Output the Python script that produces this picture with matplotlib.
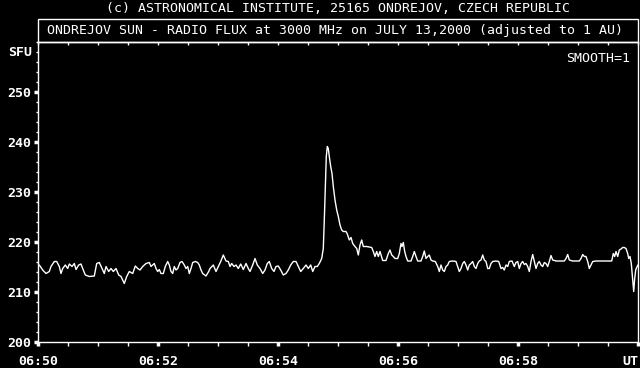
import matplotlib
matplotlib.use("Agg")
import matplotlib.pyplot as plt
from matplotlib.patches import Rectangle
from matplotlib.ticker import MultipleLocator

# seconds after 06:50:00 UT
seconds = [
    0, 1.3, 4.7, 8, 11.3, 13, 16.3, 18.7, 21.3, 23, 24.7, 27.3, 29.7, 31.3, 34, 36.3, 38, 40.7,
    43, 44.7, 47.3, 51.3, 56.3, 58.7, 61.3, 64, 66.3, 68, 70.7, 73, 75.3, 78, 80.7, 83, 86.3,
    88.7, 91.3, 94.7, 97.3, 99.7, 102, 104.7, 108, 111.3, 113, 116.3, 118,
    119.7, 121.3, 123, 125.3, 127.3, 129.7, 131.3, 133, 134.7, 136.3, 138, 139.7, 142, 144,
    146.3, 148, 149.7, 151.3, 153, 154.7, 157.3, 159.7, 161.3, 163, 164.7, 168, 170.7,
    172, 175.3, 178, 180.3, 182.7, 185.3, 188, 190.3, 192, 193.7, 196, 198, 200.3, 202.7,
    205.3, 208, 210.3, 212, 214.7, 217, 219.3, 222, 224.7, 227, 229.3, 231.3, 233.7, 236,
    238, 240.3, 242.7, 245.3, 248, 250.3, 252.7, 255.3, 258, 260.3, 262.7, 265.3, 268,
    270.3, 272.7, 274.7, 277, 279.3, 281.3, 283.7, 285.3, 286.3, 287.3, 288.3, 289.3,
    290.3, 291.3, 292.7, 294, 295.3, 297, 298.7, 300.3, 302, 303.7, 305.3, 308, 309.3,
    311.3, 313, 314.7, 317, 318.7, 320.3, 322, 323.7, 325.3, 328.7, 333.7, 335.3, 337,
    338.7, 340.3, 342, 344.7, 348, 350.3, 352, 353.7, 355.3, 357,
    359.7, 361.3, 363, 364, 365.3, 366.7, 368, 369.7, 373, 374.7, 376.3, 378, 379.7, 383,
    384.7, 386.3, 388, 389.7, 391.3, 393, 394.7, 397.3, 399.7, 401.3, 403, 404.7, 406.3,
    408, 409.7, 411.3, 414.7, 418, 419.7, 421.3, 423, 424.7, 426.3, 428, 429.7, 431.3, 433,
    434.7, 436.3, 438, 439.7, 441.3, 443, 444.7, 446.3, 448, 449.7, 451.3, 453, 454.7, 458,
    460.7, 463, 464.7, 466.3, 468, 469.7, 471.3, 474, 476.3,
    478, 479.7, 481.3, 483, 484.7, 486.3, 488, 489.7, 491.3, 493, 494.7, 496.3, 498, 499.7,
    501.3, 503, 504.7, 506.3, 508, 509.7, 511.3, 513, 514.7, 518, 526.3, 528, 529.7, 531.3,
    534.7, 541.3, 543, 544.7, 546.3, 548, 549.7, 551.3, 553, 554.7, 558, 573.7, 575.3,
    576.7, 578, 579.7, 581.3, 583, 584.7, 586.3, 588, 589.7, 590.7, 592, 593.3, 594.7,
    595.7, 596.7, 597.7, 598.7, 600,
]

flux_sfu = [
    215.1, 215.4, 214.4, 213.7, 214.1, 215.1, 216.1, 216.1, 215.1, 213.7, 214.7, 215.4, 214.7,
    215.6, 215.1, 215.7, 214.5, 215.4, 215.6, 214.7, 213.4, 213.1, 213.2, 215.7, 215.9, 214.7,
    213.7, 215.1, 214.1, 214.7, 214.1, 214.7, 213.4, 213.1, 211.7, 213.1, 214.1, 213.7, 215.2,
    214.7, 214.4, 215.1, 215.7, 215.9, 215.1, 215.7, 214.7,
    214.1, 214.5, 213.7, 213.7, 215.1, 216.1, 215.4, 214.1, 213.7, 215.1, 214.4, 214.7, 215.9,
    216.1, 215.4, 214.7, 215.1, 213.7, 214.7, 215.9, 216.1, 215.9, 215.4, 214.4, 213.7, 213.2,
    214.1,
    214.7, 215.4, 214.1, 215.1, 216.1, 217.4, 216.2, 216.1, 215.1, 215.7, 215.1, 215.4, 214.7,
    215.6, 214.5, 215.7, 214.7, 214.1, 215.4, 216.7, 215.4, 214.7, 213.7, 214.4, 215.7, 216.1,
    214.7, 214.1, 215.1, 215.2, 214.4, 213.4, 213.7, 214.4, 215.4, 216.1, 216.1, 215.1, 214.1,
    214.7, 215.4, 214.7, 215.4, 214.1, 215.1, 215.1, 215.7, 216.7, 218.7, 224.4, 231.1, 237.1,
    239.1, 238.7, 237.1, 235.1, 233.7, 231.1, 228.4, 226.4, 225.1, 223.4, 222.4, 222.1, 222.1,
    221.6, 220.4, 220.9, 219.7, 219.1, 218.7, 217.4, 219.4, 220.4, 219.1, 219.1, 218.9, 218.1,
    217.1, 218.1, 217.1, 218.1, 216.3, 216.3, 217.7, 218.4, 217.4, 217.1, 216.7,
    216.7, 217.7, 219.7, 219.1, 219.9, 218.1, 217.1, 216.2, 216.2, 217.1, 218.1, 217.1, 216.2,
    216.2, 217.1, 218.2, 216.7, 217.1, 217.4, 216.4, 216.2, 216.1, 215.1, 214.1, 215.4, 214.4,
    214.1, 215.1, 215.4, 216.1, 216.2, 216.1, 215.1, 214.1, 214.7, 215.7, 216.1, 215.4, 214.4,
    215.4, 215.7, 216.1, 215.1, 214.7, 215.7, 216.2, 216.4, 217.4, 216.4, 216.1, 214.7, 214.7,
    215.7, 216.1, 216.2, 216.1, 214.7, 214.9, 214.4, 215.4, 215.1, 216.1, 216.2, 215.1,
    215.9, 216.1, 214.7, 215.7, 216.1, 215.5, 215.7, 215.1, 214.1, 216.1, 217.5, 216.1, 214.7,
    215.7, 216.1, 215.4, 215.1, 215.9, 215.7, 215.1, 216.1, 217.3, 216.4, 216.2, 216.2, 216.7,
    217.5, 216.4, 216.2, 216.2, 216.7, 217.5, 217.1, 217.1, 216.1, 214.7, 215.4, 216.1, 216.2,
    216.2, 217.7, 217.1, 218.1, 217.1, 218.4, 218.6, 218.9, 218.9, 218.7, 217.7, 216.7, 217.1,
    215.7, 212.4, 210.1, 212.7, 214.4, 214.9, 215.4,
]

x_tick_pos = [0, 120, 240, 360, 480, 600]
x_tick_labels = ["06:50", "06:52", "06:54", "06:56", "06:58", "UT"]
y_tick_pos = [200, 210, 220, 230, 240, 250]

header = "(c) ASTRONOMICAL INSTITUTE, 25165 ONDREJOV, CZECH REPUBLIC"
title = "ONDREJOV SUN - RADIO FLUX at 3000 MHz on JULY 13,2000 (adjusted to 1 AU)"

W, H = 640, 368
fig = plt.figure(figsize=(6.4, 3.68), dpi=100, facecolor="black")
ax = fig.add_axes([38 / W, (H - 342) / H, 600 / W, 300 / H], facecolor="black")

ax.plot(seconds, flux_sfu, color="white", lw=1.0)
ax.set_xlim(0, 600)
ax.set_ylim(200, 260)

for s in ax.spines.values():
    s.set_color("white")
    s.set_linewidth(1.0)

mono = "DejaVu Sans Mono"
ax.set_xticks(x_tick_pos)
ax.set_xticklabels(x_tick_labels, family=mono, fontsize=9.5, color="white", fontweight="bold")
ax.xaxis.set_minor_locator(MultipleLocator(30))
ax.set_yticks(y_tick_pos)
ax.set_yticklabels([str(v) for v in y_tick_pos], family=mono, fontsize=9.5, color="white",
                   fontweight="bold")
ax.yaxis.set_minor_locator(MultipleLocator(2))

ax.tick_params(axis="x", which="major", direction="out", length=3, width=2.5, color="white", pad=6.5)
ax.tick_params(axis="x", which="minor", direction="out", length=3, width=1, color="white")
ax.tick_params(axis="y", which="major", direction="out", length=3, width=2.5, color="white", pad=2)
ax.tick_params(axis="y", which="minor", direction="out", length=1.5, width=1, color="white")

labs = ax.get_xticklabels()
labs[-1].set_horizontalalignment("right")

top = ax.secondary_xaxis("top")
top.set_xticks(list(range(0, 601, 30)))
top.tick_params(direction="in", length=2.5, width=1, color="white", labeltop=False)
top.spines["top"].set_color("white")

ax.text(-0.01, 258, "SFU", transform=ax.get_yaxis_transform(), ha="right", va="center",
        family=mono, fontsize=9.5, fontweight="bold", color="white")
ax.text(0.987, 0.945, "SMOOTH=1", transform=ax.transAxes, ha="right", va="center",
        family=mono, fontsize=9.5, color="white")

fig.add_artist(Rectangle((38 / W, (H - 42) / H), 600 / W, 23 / H, transform=fig.transFigure,
                         fill=False, edgecolor="white", lw=1.0))
fig.text(335 / W, 1 - 30.5 / H, title, ha="center", va="center", family=mono, fontsize=9.5,
         color="white")
fig.text(337.5 / W, 1 - 8 / H, header, ha="center", va="center", family=mono, fontsize=9.5,
         color="white")

fig.savefig("out.png", dpi=100, facecolor="black")
